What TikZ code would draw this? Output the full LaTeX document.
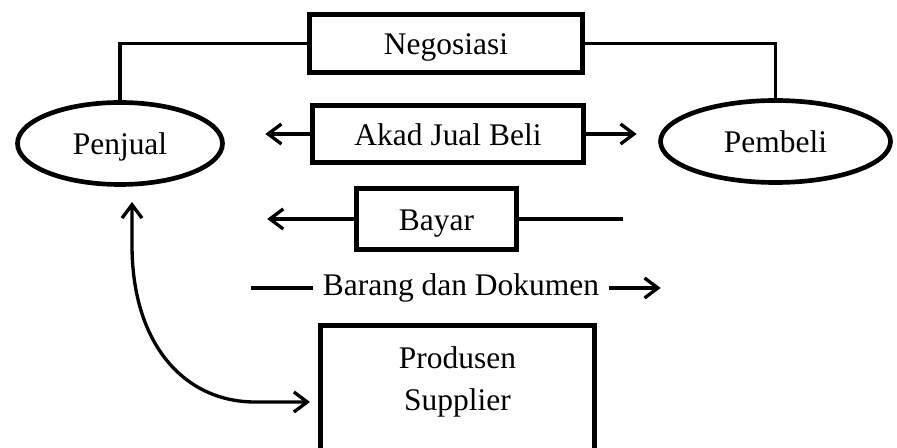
\documentclass[tikz,border=0pt]{standalone}
\usepackage{fontspec}
\setmainfont{Liberation Serif}
\usetikzlibrary{shapes.geometric,arrows.meta}

\tikzset{
  teks/.style={font=\fontsize{23.6}{32}\selectfont},
  kotak/.style={teks, draw, rectangle, line width=3.5pt, inner sep=0pt, text height=20pt, text depth=3pt},
  bulat/.style={teks, draw, ellipse, line width=3.5pt, inner sep=0pt, text height=20pt, text depth=3pt},
  garis/.style={line width=2.5pt},
  panah/.style={garis, -{Straight Barb[length=10pt,width=15pt]}}
}

\begin{document}
\begin{tikzpicture}[x=0.75pt,y=0.75pt,yscale=-1,xscale=1]
\useasboundingbox (0,0) rectangle (897,448);

%Penjual dan Pembeli
\node[bulat, minimum width=153.75pt, minimum height=61.5pt] (penjual) at (120,143.5) {Penjual};
\node[bulat, minimum width=172.5pt, minimum height=61.5pt] (pembeli) at (775.5,141.5) {Pembeli};

%Kotak tengah
\node[kotak, minimum width=204.75pt, minimum height=43.5pt] (nego) at (446,43.5) {Negosiasi};
\node[kotak, minimum width=203pt, minimum height=43pt] (akad) at (448,134) {Akad Jual Beli};
\node[kotak, minimum width=120pt, minimum height=45.75pt] (bayar) at (436.5,219) {Bayar};
\node[teks, inner xsep=7pt, inner ysep=0pt] (barang) at (461,288) {Barang dan Dokumen};
\node[kotak, minimum width=205.5pt, minimum height=97pt] (prod) at (457.5,390) {};
\node[teks, align=center] (prodteks) at (457.5,382) {Produsen\\Supplier};

%Garis negosiasi
\draw[garis] (nego.west) -| (penjual.north);
\draw[garis] (nego.east) -| (pembeli.north);

%Panah
\draw[panah] (akad.west) -- ++(-45,0);
\draw[panah] (akad.east) -- ++(51,0);
\draw[panah] (bayar.west) -- ++(-87,0);
\draw[garis] (bayar.east) -- ++(104,0);
\draw[garis] (barang.west) -- ++(-62,0);
\draw[panah] (barang.east) -- ++(52,0);

%Panah lengkung ke produsen
\coordinate (jualbawah) at (132,202);
\coordinate (prodkiri) at (310,402);
\draw[garis, {Straight Barb[length=10pt,width=15pt]}-{Straight Barb[length=10pt,width=15pt]}] (jualbawah) -- (132,245) .. controls (132,345) and (185,402) .. (255,402) -- (prodkiri);

\end{tikzpicture}
\end{document}
